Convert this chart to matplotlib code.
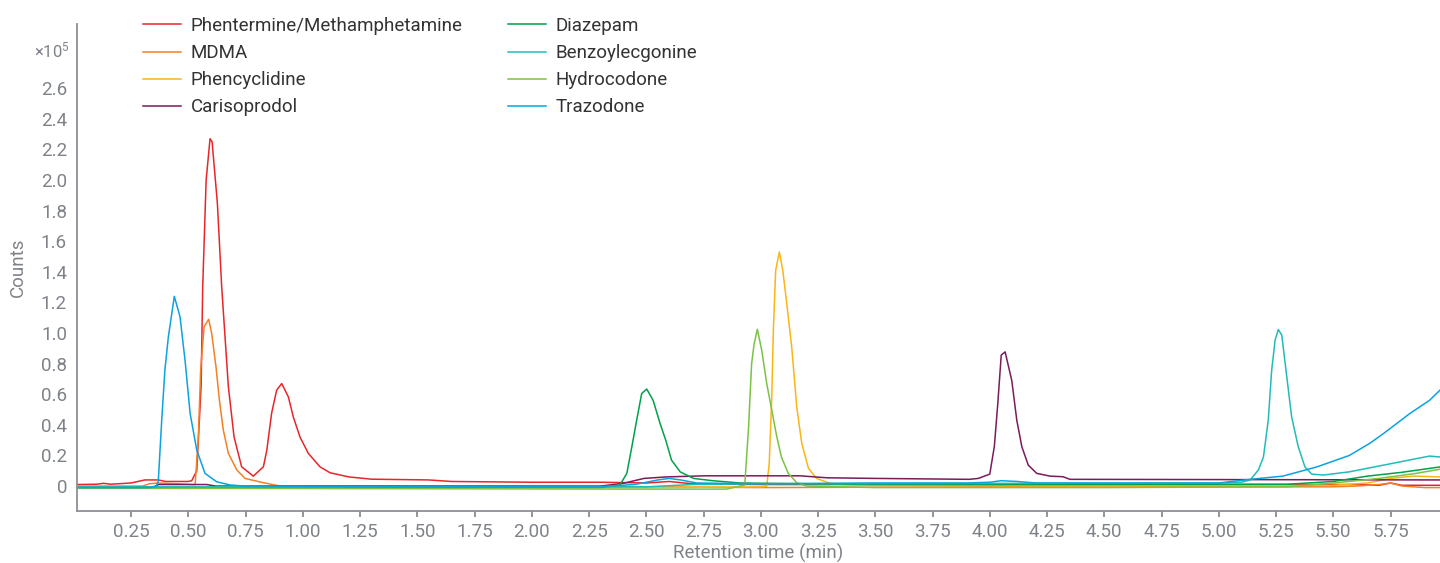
import matplotlib
matplotlib.use("Agg")
import matplotlib.pyplot as plt

plt.rcParams['font.family'] = ['Roboto', 'DejaVu Sans']
plt.rcParams['mathtext.default'] = 'regular'

# retention time (min) and counts (x10^5)
phen_t = [0.013, 0.10, 0.13, 0.16, 0.25, 0.31, 0.37, 0.40, 0.50, 0.515, 0.537, 0.556, 0.563,
          0.578, 0.595, 0.604, 0.627, 0.646, 0.675, 0.700, 0.733, 0.784, 0.828, 0.843, 0.864,
          0.886, 0.908, 0.937, 0.959, 0.988, 1.024, 1.075, 1.119, 1.20, 1.30, 1.55, 1.65,
          2.00, 2.30, 2.50, 2.60, 2.70, 3.00, 4.00, 5.00, 5.60, 5.70, 5.75, 5.80, 5.966]
phen_v = [0.010, 0.012, 0.018, 0.012, 0.020, 0.040, 0.040, 0.030, 0.030, 0.035, 0.10, 0.65, 1.30,
          2.00, 2.27, 2.25, 1.85, 1.30, 0.65, 0.32, 0.126, 0.065, 0.126, 0.235, 0.477,
          0.627, 0.670, 0.583, 0.450, 0.320, 0.214, 0.126, 0.087, 0.060, 0.045, 0.040, 0.030,
          0.025, 0.025, 0.020, 0.030, 0.015, 0.010, 0.010, 0.010, 0.010, 0.005, 0.020, 0.005, 0.005]

mdma_t = [0.013, 0.30, 0.33, 0.37, 0.45, 0.52, 0.53, 0.544, 0.554, 0.569, 0.589, 0.602, 0.621,
          0.636, 0.653, 0.675, 0.712, 0.748, 0.828, 0.90, 1.50, 2.50, 3.00, 4.00, 5.00, 5.50,
          5.60, 5.70, 5.75, 5.80, 5.90, 5.966]
mdma_v = [0.0, 0.0, 0.015, 0.020, 0.015, 0.010, 0.010, 0.32, 0.76, 1.04, 1.09, 1.00, 0.78,
          0.56, 0.366, 0.214, 0.105, 0.050, 0.022, 0.0, -0.002, -0.005, -0.010, -0.005, -0.005, -0.005,
          0.0, 0.010, 0.020, 0.0, -0.010, -0.010]

pcp_t = [0.013, 0.50, 1.00, 2.50, 3.00, 3.026, 3.037, 3.048, 3.055, 3.065, 3.081, 3.096, 3.11,
         3.135, 3.157, 3.179, 3.208, 3.244, 3.302, 3.40, 4.50, 5.50, 5.65, 5.75, 5.85, 5.966]
pcp_v = [-0.010, -0.015, -0.010, -0.010, -0.005, 0.0, 0.148, 0.583, 1.02, 1.41, 1.53, 1.41, 1.236,
         0.91, 0.518, 0.279, 0.116, 0.050, 0.018, 0.005, 0.0, 0.005, 0.020, 0.050, 0.065, 0.060]

cari_t = [0.013, 0.35, 0.37, 0.58, 0.62, 2.30, 2.40, 2.49, 2.59, 2.76, 3.17, 3.29, 3.50, 3.91,
          3.95, 4.00, 4.02, 4.035, 4.05, 4.067, 4.096, 4.118, 4.14, 4.168, 4.205, 4.263, 4.32,
          4.35, 5.966]
cari_v = [-0.010, -0.005, 0.010, 0.010, 0.0, 0.0, 0.018, 0.050, 0.060, 0.067, 0.067, 0.054, 0.050,
          0.044, 0.050, 0.078, 0.26, 0.54, 0.856, 0.877, 0.69, 0.43, 0.257, 0.137, 0.083, 0.065,
          0.061, 0.044, 0.040]

diaz_t = [0.013, 0.60, 2.30, 2.385, 2.415, 2.437, 2.458, 2.48, 2.502, 2.53, 2.56, 2.585, 2.61,
          2.648, 2.706, 2.79, 2.91, 3.50, 4.50, 5.30, 5.50, 5.65, 5.80, 5.966]
diaz_v = [-0.010, -0.010, -0.010, 0.007, 0.083, 0.257, 0.43, 0.605, 0.634, 0.56, 0.41, 0.30, 0.17,
          0.093, 0.050, 0.035, 0.020, 0.010, 0.010, 0.012, 0.030, 0.065, 0.090, 0.125]

benz_t = [0.013, 2.50, 2.70, 3.00, 5.00, 5.10, 5.137, 5.173, 5.195, 5.216, 5.231, 5.246, 5.26,
          5.275, 5.297, 5.318, 5.347, 5.376, 5.406, 5.457, 5.57, 5.72, 5.92, 5.966]
benz_v = [-0.005, -0.005, 0.010, 0.015, 0.020, 0.025, 0.040, 0.105, 0.19, 0.43, 0.758, 0.954, 1.023,
          0.986, 0.714, 0.453, 0.257, 0.126, 0.078, 0.072, 0.093, 0.137, 0.196, 0.190]

hydro_t = [0.013, 0.60, 2.50, 2.85, 2.93, 2.946, 2.96, 2.971, 2.985, 3.004, 3.026, 3.048, 3.07,
           3.09, 3.12, 3.157, 3.20, 3.50, 4.50, 5.30, 5.50, 5.70, 5.85, 5.966]
hydro_v = [-0.015, -0.015, -0.020, -0.020, 0.007, 0.366, 0.80, 0.93, 1.025, 0.888, 0.67, 0.496, 0.322,
           0.19, 0.083, 0.022, 0.0, -0.010, -0.010, -0.005, 0.020, 0.050, 0.080, 0.110]

traz_t = [0.013, 0.33, 0.36, 0.369, 0.384, 0.398, 0.413, 0.439, 0.464, 0.486, 0.508, 0.537, 0.573,
          0.624, 0.682, 0.75, 1.50, 2.30, 2.45, 2.55, 2.60, 2.65, 2.72, 3.00, 3.50, 3.90, 4.00,
          4.05, 4.12, 4.20, 5.00, 5.137, 5.28, 5.43, 5.57, 5.66, 5.72, 5.835, 5.92, 5.966]
traz_v = [-0.010, -0.010, 0.0, 0.030, 0.43, 0.76, 0.975, 1.24, 1.106, 0.82, 0.475, 0.235, 0.083,
          0.028, 0.007, 0.0, -0.003, -0.003, 0.010, 0.040, 0.050, 0.040, 0.020, 0.015, 0.020, 0.020, 0.025,
          0.035, 0.030, 0.020, 0.020, 0.044, 0.065, 0.126, 0.200, 0.280, 0.344, 0.475, 0.560, 0.627]

names = ["Phentermine/Methamphetamine", "MDMA", "Phencyclidine", "Carisoprodol",
         "Diazepam", "Benzoylecgonine", "Hydrocodone", "Trazodone"]
colors = ["#e8262a", "#f58025", "#fbb514", "#7a1b5b",
          "#00a14b", "#20bdb8", "#7cc243", "#0aa3e0"]
series = [(phen_t, phen_v), (mdma_t, mdma_v), (pcp_t, pcp_v), (cari_t, cari_v),
          (diaz_t, diaz_v), (benz_t, benz_v), (hydro_t, hydro_v), (traz_t, traz_v)]

y_ticks = [0, 0.2, 0.4, 0.6, 0.8, 1.0, 1.2, 1.4, 1.6, 1.8, 2.0, 2.2, 2.4, 2.6]
y_labels = ["0", "0.2", "0.4", "0.6", "0.8", "1.0", "1.2", "1.4", "1.6", "1.8", "2.0",
            "2.2", "2.4", "2.6"]
x_ticks = [0.25, 0.5, 0.75, 1.0, 1.25, 1.5, 1.75, 2.0, 2.25, 2.5, 2.75, 3.0,
           3.25, 3.5, 3.75, 4.0, 4.25, 4.5, 4.75, 5.0, 5.25, 5.5, 5.75]

grey = "#7f8389"
fs = 13.5

fig = plt.figure(figsize=(14.4, 5.63), dpi=100)
ax = fig.add_axes([0.0533, 0.0929, 0.9467, 0.8645])

for (t, v), name, c in zip(series, names, colors):
    ax.plot(t, v, color=c, lw=1.1, label=name)

ax.set_xlim(0.013, 5.966)
ax.set_ylim(-0.161, 3.02)
ax.set_xticks(x_ticks)
ax.set_xticklabels([f"{x:.2f}" for x in x_ticks])
ax.set_yticks(y_ticks)
ax.set_yticklabels(y_labels)
ax.tick_params(axis='x', colors=grey, labelsize=fs, length=4, width=1.2, pad=5)
ax.tick_params(axis='y', colors=grey, labelsize=fs, length=0, pad=7)
for s in ["top", "right"]:
    ax.spines[s].set_visible(False)
for s in ["left", "bottom"]:
    ax.spines[s].set_color("#8c8f94")
    ax.spines[s].set_linewidth(1.3)

ax.set_xlabel("Retention time (min)", color=grey, fontsize=fs, labelpad=2)
ax.set_ylabel("Counts", color=grey, fontsize=fs, labelpad=10)
fig.text(0.0486, 1 - 50 / 563, r"×10$^{5}$", color=grey, fontsize=12, ha='right', va='center')

fig.legend(loc='upper left', bbox_to_anchor=(0.0993, 0.970), ncol=2, frameon=False,
           fontsize=fs, handlelength=2.03, handletextpad=0.53, columnspacing=2.4,
           labelspacing=0.49, borderaxespad=0, borderpad=0, labelcolor="#333333")

fig.savefig("out.png", dpi=100)
